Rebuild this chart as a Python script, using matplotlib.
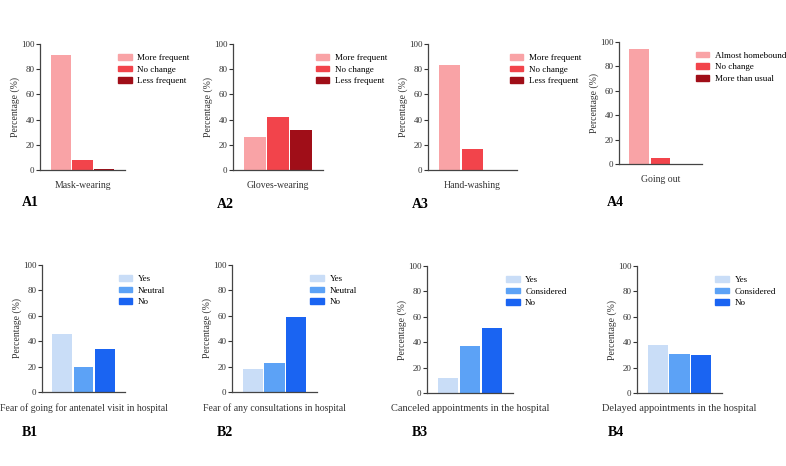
import matplotlib.pyplot as plt
from matplotlib.patches import Patch

plt.rcParams['font.family'] = ['Liberation Serif', 'DejaVu Serif']

# --- data ---
a_titles = ['Mask-wearing', 'Gloves-wearing', 'Hand-washing', 'Going out']
a_legends = [
    ['More frequent', 'No change', 'Less frequent'],
    ['More frequent', 'No change', 'Less frequent'],
    ['More frequent', 'No change', 'Less frequent'],
    ['Almost homebound', 'No change', 'More than usual'],
]
a_mask = [91, 8, 0.6]
a_gloves = [26, 42, 32]
a_hand = [83, 17, 0]
a_out = [94, 5, 0]

b_titles = ['Fear of going for antenatel visit in hospital',
            'Fear of any consultations in hospital',
            'Canceled appointments in the hospital',
            'Delayed appointments in the hospital']
b_legends = [
    ['Yes', 'Neutral', 'No'],
    ['Yes', 'Neutral', 'No'],
    ['Yes', 'Considered', 'No'],
    ['Yes', 'Considered', 'No'],
]
b_fear_visit = [46, 20, 34]
b_fear_consult = [18, 23, 59]
b_canceled = [12, 37, 51]
b_delayed = [38, 31, 30]

panel_names = ['A1', 'A2', 'A3', 'A4', 'B1', 'B2', 'B3', 'B4']

red_colors = ['#F9A3A6', '#F2444B', '#A00E18']
blue_colors = ['#C9DDF7', '#5CA2F6', '#1A64F2']

W, H = 786, 466
# axes boxes in pixels: x0, x1, ytop, ybottom
boxes = [
    (40, 125, 44, 170), (233, 323, 44, 170), (428, 517, 44, 170), (619, 702, 42, 164),
    (42, 125, 265, 392), (232, 317, 265, 392), (427, 513, 266, 393), (637, 722, 266, 393),
]
label_pos = [(22, 203), (217, 205), (412, 205), (607, 203),
             (22, 433), (217, 433), (412, 433), (608, 433)]


def draw_panel(fig, box, values, colors, names, xlabel, xlabel_size):
    x0, x1, yt, yb = box
    ax = fig.add_axes([x0 / W, 1 - yb / H, (x1 - x0) / W, (yb - yt) / H])
    ax.bar(range(3), values, width=0.93, color=colors)
    ax.set_xlim(-0.95, 2.95)
    ax.set_ylim(0, 100)
    ax.set_yticks([0, 20, 40, 60, 80, 100])
    ax.set_xticks([])
    ax.tick_params(axis='y', labelsize=6.5, length=3, width=0.8,
                   colors='#333333', pad=1)
    for s in ['top', 'right']:
        ax.spines[s].set_visible(False)
    for s in ['left', 'bottom']:
        ax.spines[s].set_color('#444444')
        ax.spines[s].set_linewidth(0.9)
    ax.set_ylabel('Percentage (%)', fontsize=7, color='#333333', labelpad=1)
    ax.set_xlabel(xlabel, fontsize=xlabel_size, color='#333333', labelpad=8)
    handles = [Patch(color=c) for c in colors]
    ax.legend(handles, names, loc='upper left', bbox_to_anchor=(0.88, 0.95),
              frameon=False, fontsize=6.5, handlelength=1.5, handleheight=0.6,
              handletextpad=0.6, labelspacing=0.4, borderaxespad=0)
    return ax


def main():
    fig = plt.figure(figsize=(W / 100, H / 100), dpi=100)

    a_values = [a_mask, a_gloves, a_hand, a_out]
    b_values = [b_fear_visit, b_fear_consult, b_canceled, b_delayed]

    for i in range(4):
        draw_panel(fig, boxes[i], a_values[i], red_colors, a_legends[i],
                   a_titles[i], 7)
    for i in range(4):
        size = 7.5 if i >= 2 else 7
        draw_panel(fig, boxes[4 + i], b_values[i], blue_colors, b_legends[i],
                   b_titles[i], size)

    for name, (px, py) in zip(panel_names, label_pos):
        fig.text(px / W, 1 - py / H, name, fontsize=10, fontweight='bold',
                 va='center', ha='left')

    fig.savefig('out.png', dpi=100)


if __name__ == "__main__":
    main()
